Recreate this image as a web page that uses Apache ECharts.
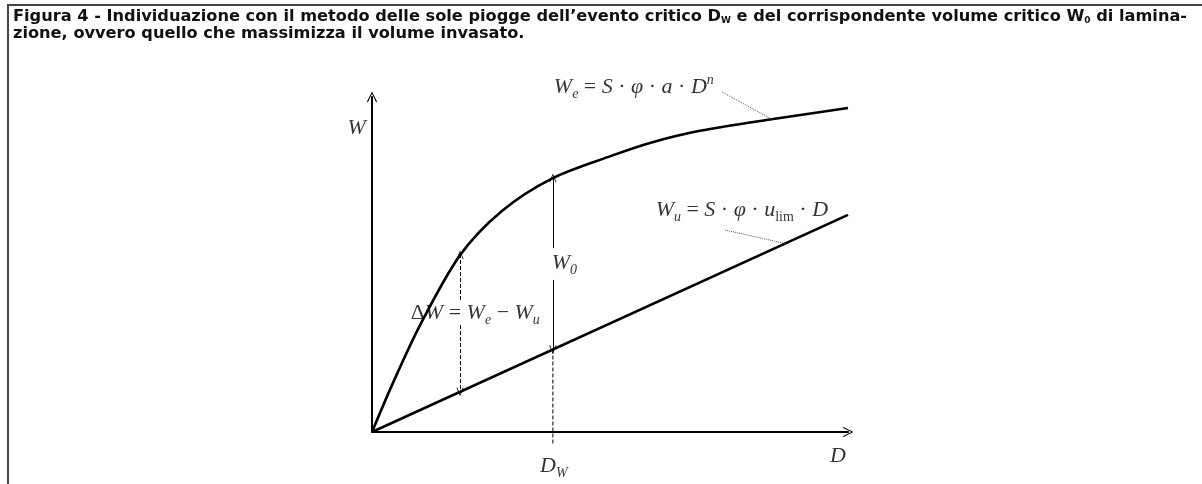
<!DOCTYPE html>
<html>
<head>
<meta charset="utf-8">
<title>Figura 4</title>
<script src="https://cdn.jsdelivr.net/npm/echarts@6/dist/echarts.min.js"></script>
<style>
  html, body { margin: 0; padding: 0; background: #fff; }
  #frame {
    position: absolute; left: 7px; top: 4px; right: 0; bottom: 0;
    border-top: 2px solid #444; border-left: 2px solid #444;
  }
  #chart { position: absolute; left: 0; top: 0; width: 1202px; height: 484px; }
</style>
</head>
<body>
<div id="frame"></div>
<div id="chart"></div>
<script>
// Curva dei volumi entranti We(D) (unità arbitrarie)
const durations = [0, 0.42, 1.01, 1.85, 2.73, 3.80, 5.04, 5.84, 6.89, 8.36, 10];
const weValues = [0, 1.40, 3.19, 5.28, 6.60, 7.58, 8.25, 8.63, 8.99, 9.33, 9.67];

// Retta dei volumi uscenti Wu(D)
const wuDurations = [0, 10];
const wuValues = [0, 6.48];

// Durata critica e durata dove è indicato ΔW
const criticalD = 3.80;
const deltaD = 1.85;

// Etichette
const titleLine1 = 'Figura 4 - Individuazione con il metodo delle sole piogge dell\u2019evento critico D';
const titleLine2 = 'zione, ovvero quello che massimizza il volume invasato.';

/**
 * Valore di Wu alla durata d (retta per l'origine)
 */
function wuAt(d) {
  return wuValues[1] / wuDurations[1] * d;
}

/**
 */
function weAt(d) {
  return weValues[durations.indexOf(d)];
}

/**
 * Segmento sottile (richiamo o proiezione) come serie line non ritagliata
 */
function segment(points, type, color) {
  return {
    type: 'line',
    clip: false,
    silent: true,
    showSymbol: false,
    data: points,
    lineStyle: { type: type, width: 1, color: color }
  };
}

const chevron = 'path://M0,12 L6,0 L12,12 L11,13 L6,2.6 L1,13 Z';
const ink = '#000';

const math = {
  m: { fontFamily: 'Liberation Serif', fontStyle: 'italic', fontSize: 22, lineHeight: 28, color: ink },
  r: { fontFamily: 'Liberation Serif', fontSize: 22, lineHeight: 28, color: ink },
  s: { fontFamily: 'Liberation Serif', fontStyle: 'italic', fontSize: 14, lineHeight: 14, verticalAlign: 'bottom', color: ink },
  sr: { fontFamily: 'Liberation Serif', fontSize: 14, lineHeight: 14, verticalAlign: 'bottom', color: ink },
  p: { fontFamily: 'Liberation Serif', fontStyle: 'italic', fontSize: 14, lineHeight: 16, verticalAlign: 'top', color: ink }
};

// Posizioni delle etichette [D, W, testo]
const notes = [
  [5.50, 10.30, '{m|W}{s|e}{r| = }{m|S}{r| \u00b7 }{m|\u03c6}{r| \u00b7 }{m|a}{r| \u00b7 }{m|D}{p|n}'],
  [7.77, 6.63, '{m|W}{s|u}{r| = }{m|S}{r| \u00b7 }{m|\u03c6}{r| \u00b7 }{m|u}{sr|lim}{r| \u00b7 }{m|D}'],
  [2.17, 3.55, '{r|\u0394}{m|W}{r| = }{m|W}{s|e}{r| \u2212 }{m|W}{s|u}'],
  [4.04, 5.05, '{m|W}{s|0}'],
  [-0.32, 9.07, '{m|W}'],
  [9.79, -0.72, '{m|D}'],
  [3.82, -1.02, '{m|D}{s|W}']
];

const chart = echarts.init(document.getElementById('chart'));

const wuCrit = wuAt(criticalD);
const weCrit = weAt(criticalD);
const wuDelta = wuAt(deltaD);
const weDelta = weAt(deltaD);

const solidArrow = { type: 'solid', width: 1, color: ink };
const dashedArrow = { type: 'dashed', width: 1, color: ink };

chart.setOption({
  animation: false,
  backgroundColor: 'transparent',
  title: {
    left: 8,
    top: 3,
    text: '{t|' + titleLine1 + '}{s|W}{t| e del corrispondente volume critico W}{s|0}{t| di lamina-}\n{t|' + titleLine2 + '}',
    textStyle: {
      rich: {
        t: { fontFamily: 'DejaVu Sans', fontWeight: 'bold', fontSize: 16.2, lineHeight: 17, color: '#111' },
        s: { fontFamily: 'DejaVu Sans', fontSize: 9, lineHeight: 12, verticalAlign: 'bottom', color: '#111' }
      }
    }
  },
  grid: { left: 372, right: 354, top: 97, bottom: 52 },
  xAxis: {
    type: 'value', min: 0, max: 10,
    axisLine: { lineStyle: { color: ink, width: 2 }, symbol: ['none', chevron], symbolSize: [10, 12] },
    axisTick: { show: false }, axisLabel: { show: false }, splitLine: { show: false }
  },
  yAxis: {
    type: 'value', min: 0, max: 10,
    axisLine: { lineStyle: { color: ink, width: 2 }, symbol: ['none', chevron], symbolSize: [10, 12] },
    axisTick: { show: false }, axisLabel: { show: false }, splitLine: { show: false }
  },
  series: [
    {
      name: 'We',
      type: 'line',
      data: durations.map((d, i) => [d, weValues[i]]),
      smooth: 0.3,
      showSymbol: false,
      lineStyle: { color: ink, width: 2.6 }
    },
    {
      name: 'Wu',
      type: 'line',
      data: wuDurations.map((d, i) => [d, wuValues[i]]),
      showSymbol: false,
      lineStyle: { color: ink, width: 2.6 },
      markLine: {
        silent: true,
        symbol: 'none',
        symbolSize: [7, 9],
        label: { show: false },
        data: [
          // W0: freccia doppia tra Wu e We alla durata critica
          [{ coord: [criticalD, 4.54], symbol: 'none', lineStyle: solidArrow }, { coord: [criticalD, wuCrit], symbol: chevron }],
          [{ coord: [criticalD, 5.49], symbol: 'none', lineStyle: solidArrow }, { coord: [criticalD, weCrit], symbol: chevron }],
          // ΔW: freccia doppia tratteggiata
          [{ coord: [deltaD, 3.94], symbol: 'none', lineStyle: dashedArrow }, { coord: [deltaD, weDelta], symbol: chevron }],
          [{ coord: [deltaD, 3.19], symbol: 'none', lineStyle: dashedArrow }, { coord: [deltaD, wuDelta], symbol: chevron }]
        ]
      }
    },
    // proiezione tratteggiata di D_W sull'asse
    segment([[criticalD, wuCrit], [criticalD, -0.39]], 'dashed', ink),
    // linee di richiamo delle formule
    segment([[7.35, 10.15], [8.40, 9.34]], 'dotted', '#555'),
    segment([[7.42, 6.03], [8.68, wuAt(8.68)]], 'dotted', '#555'),
    {
      name: 'note',
      type: 'scatter',
      clip: false,
      silent: true,
      symbolSize: 0,
      itemStyle: { color: 'transparent' },
      data: notes.map(n => ({
        value: [n[0], n[1]],
        label: {
          show: true,
          position: 'inside',
          color: ink,
          textBorderWidth: 0,
          formatter: n[2],
          rich: math
        }
      }))
    }
  ]
});
</script>
</body>
</html>
